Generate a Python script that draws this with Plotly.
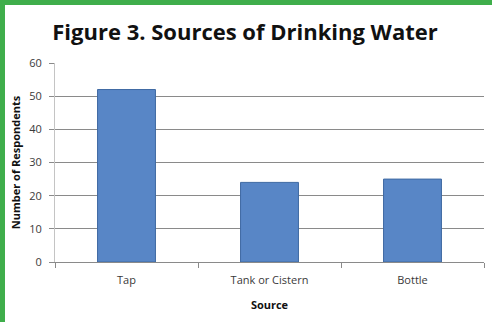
import plotly.graph_objects as go

# Survey responses: where respondents get their drinking water
sources = ["Tap", "Tank or Cistern", "Bottle"]
respondents = [52, 24, 25]
y_ticks = [0, 10, 20, 30, 40, 50, 60]

W, H = 492, 322
L, R, T, B = 55, 8, 63, 60
plot_w = W - L - R
plot_h = H - T - B

fig = go.Figure(
    go.Bar(
        x=sources,
        y=respondents,
        width=0.405,
        marker=dict(color="#5886c6", line=dict(color="#3f6aa3", width=1)),
    )
)

green = "#3fae4b"


def px_to_paper_x(px):
    return (px - L) / plot_w


def px_to_paper_y(py):
    return (H - B - py) / plot_h


# Green frame strips along the top and left edges
fig.add_shape(type="rect", xref="paper", yref="paper",
              x0=px_to_paper_x(0), x1=px_to_paper_x(W + 2),
              y0=px_to_paper_y(5), y1=px_to_paper_y(-2),
              fillcolor=green, line_width=0, layer="above")
fig.add_shape(type="rect", xref="paper", yref="paper",
              x0=px_to_paper_x(-2), x1=px_to_paper_x(5),
              y0=px_to_paper_y(H + 2), y1=px_to_paper_y(-2),
              fillcolor=green, line_width=0, layer="above")

fig.update_layout(
    width=W,
    height=H,
    margin=dict(l=L, r=R, t=T, b=B),
    paper_bgcolor="white",
    plot_bgcolor="white",
    showlegend=False,
    font=dict(family="Open Sans", color="#404040", size=11),
    title=dict(
        text="<b>Figure 3. Sources of Drinking Water</b>",
        x=245 / W, xref="container", xanchor="center",
        y=1 - 32 / H, yref="container", yanchor="middle",
        font=dict(family="Open Sans", size=22, color="#111111"),
    ),
    xaxis=dict(
        showline=True, linecolor="#8a8a8a", linewidth=1,
        ticks="outside", tickson="boundaries", ticklen=5, tickcolor="#8a8a8a",
        showgrid=False,
        ticklabelstandoff=8,
        tickfont=dict(size=11, color="#3a3a3a"),
        title=dict(text="<b>Source</b>", font=dict(size=11, color="#111111"), standoff=15),
    ),
    yaxis=dict(
        range=[0, 60],
        tickvals=y_ticks,
        showline=True, linecolor="#c4c4c4", linewidth=1,
        ticks="outside", ticklen=5, tickcolor="#8a8a8a",
        showgrid=True, gridcolor="#8a8a8a", gridwidth=1,
        zeroline=False,
        ticklabelstandoff=5,
        tickfont=dict(size=11, color="#3a3a3a"),
        title=dict(text="<b>Number of Respondents</b>", font=dict(size=11, color="#111111"), standoff=6),
    ),
)

fig.write_html("out.html")
